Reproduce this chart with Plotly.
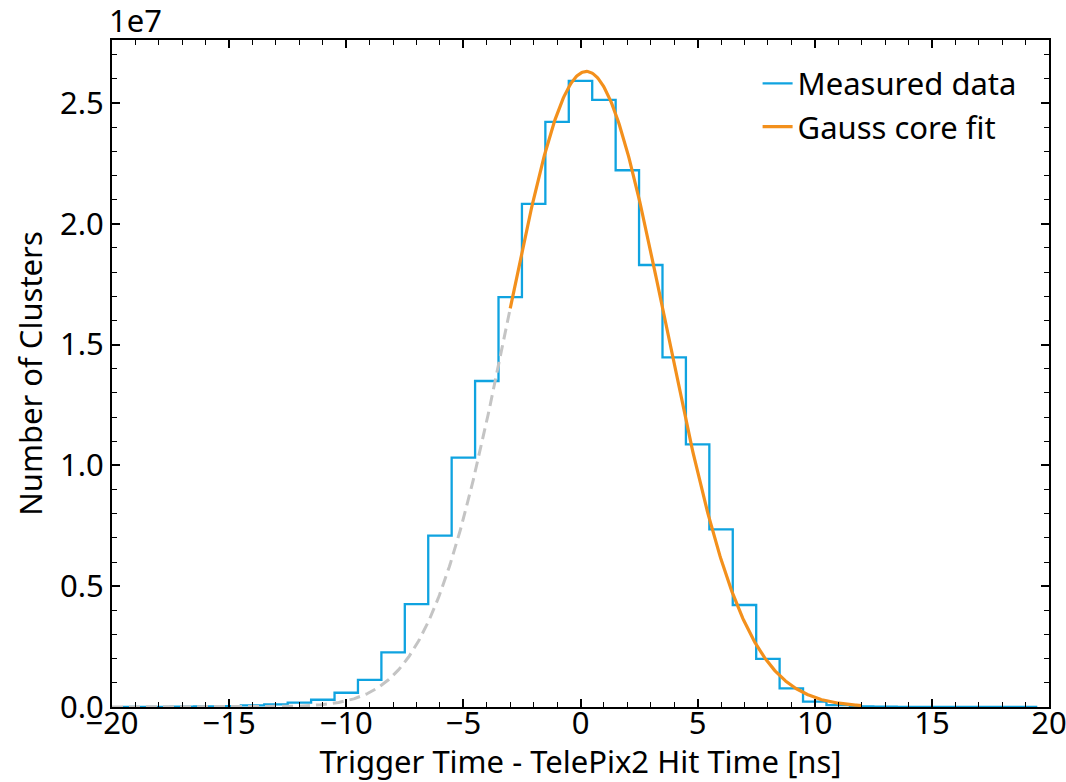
import numpy as np
import plotly.graph_objects as go

# ---- data ----
bin_edges = list(np.arange(-19.5, 20.0, 1.0))  # 1 ns bins centred on integers
bin_centers = list(range(-19, 20))
counts = [
    0.004e6, 0.007e6, 0.012e6, 0.020e6, 0.035e6, 0.065e6, 0.11e6, 0.18e6, 0.30e6,
    0.59e6, 1.12e6, 2.26e6, 4.26e6, 7.09e6, 10.32e6, 13.49e6, 16.96e6, 20.82e6,
    24.21e6, 25.91e6, 25.12e6, 22.21e6, 18.29e6, 14.47e6, 10.87e6, 7.35e6, 4.22e6,
    1.99e6, 0.77e6, 0.22e6, 0.08e6, 0.03e6, 0.01e6, 0.004e6, 0.002e6, 0.001e6,
    0.0005e6, 0.0003e6, 0.0002e6,
]
# Gauss core fit parameters
fit_amplitude = 2.63e7
fit_mean = 0.25
fit_sigma = 3.365
fit_range = [-3.0, 12.0]
extrap_range = [-20.0, -3.0]

y_tickvals = [0, 0.5e7, 1.0e7, 1.5e7, 2.0e7, 2.5e7]
y_ticktext = ["0.0", "0.5", "1.0", "1.5", "2.0", "2.5"]

# ---- styles ----
BLUE = "#0fa3e0"
ORANGE = "#f3901c"
GREY = "#c4c4c4"
FONT = "Noto Sans"
FS = 31


def gauss(x):
    return fit_amplitude * np.exp(-((x - fit_mean) ** 2) / (2 * fit_sigma ** 2))


# step histogram: drop to zero at both outer edges
step_x = [bin_edges[0]] + bin_edges + [bin_edges[-1]]
step_y = [0] + counts + [counts[-1], 0]

x_fit = np.linspace(fit_range[0], fit_range[1], 400)
x_ext = np.linspace(extrap_range[0], extrap_range[1], 400)

fig = go.Figure()
fig.add_trace(go.Scatter(
    x=step_x, y=step_y, mode="lines", line=dict(color=BLUE, width=2.3, shape="hv"),
    name="Measured data",
))
fig.add_trace(go.Scatter(
    x=x_ext, y=gauss(x_ext), mode="lines",
    line=dict(color=GREY, width=3, dash="11px,6px"), showlegend=False,
))
fig.add_trace(go.Scatter(
    x=x_fit, y=gauss(x_fit), mode="lines", line=dict(color=ORANGE, width=3.2),
    name="Gauss core fit",
))

axis_common = dict(
    showline=True, linecolor="black", linewidth=2, mirror="allticks",
    ticks="inside", ticklen=8, tickwidth=1.5, tickcolor="black",
    showgrid=False, zeroline=False, automargin=False,
    ticklabeloverflow="allow",
    tickfont=dict(family=FONT, size=FS, color="black"),
    title_font=dict(family=FONT, size=FS, color="black"),
)

fig.update_layout(
    width=1066, height=782,
    margin=dict(l=112, r=17, t=40, b=75),
    paper_bgcolor="white", plot_bgcolor="white",
    font=dict(family=FONT, color="black"),
    xaxis=dict(
        range=[-20, 20], tick0=0, dtick=5, ticklabelstandoff=-12,
        minor=dict(ticks="inside", ticklen=5, tickwidth=1.2, tickcolor="black", dtick=1, showgrid=False),
        title=dict(text="Trigger Time - TelePix2 Hit Time [ns]", standoff=26),
        **axis_common,
    ),
    yaxis=dict(
        range=[0, 2.76e7], tickvals=y_tickvals, ticktext=y_ticktext,
        minor=dict(ticks="inside", ticklen=5, tickwidth=1.2, tickcolor="black", dtick=0.1e7, tick0=0, showgrid=False),
        title=dict(text="Number of Clusters", standoff=8),
        **axis_common,
    ),
    legend=dict(
        x=0.689, y=0.975, xanchor="left", yanchor="top",
        bgcolor="rgba(255,255,255,0)", borderwidth=0,
        font=dict(family=FONT, size=FS, color="black"),
    ),
    annotations=[dict(
        text="1e7", xref="paper", yref="paper", x=0, y=1, xanchor="left", yanchor="bottom",
        showarrow=False, font=dict(family=FONT, size=FS, color="black"), xshift=-5, yshift=-3,
    )],
)

fig.write_html("out.html")
